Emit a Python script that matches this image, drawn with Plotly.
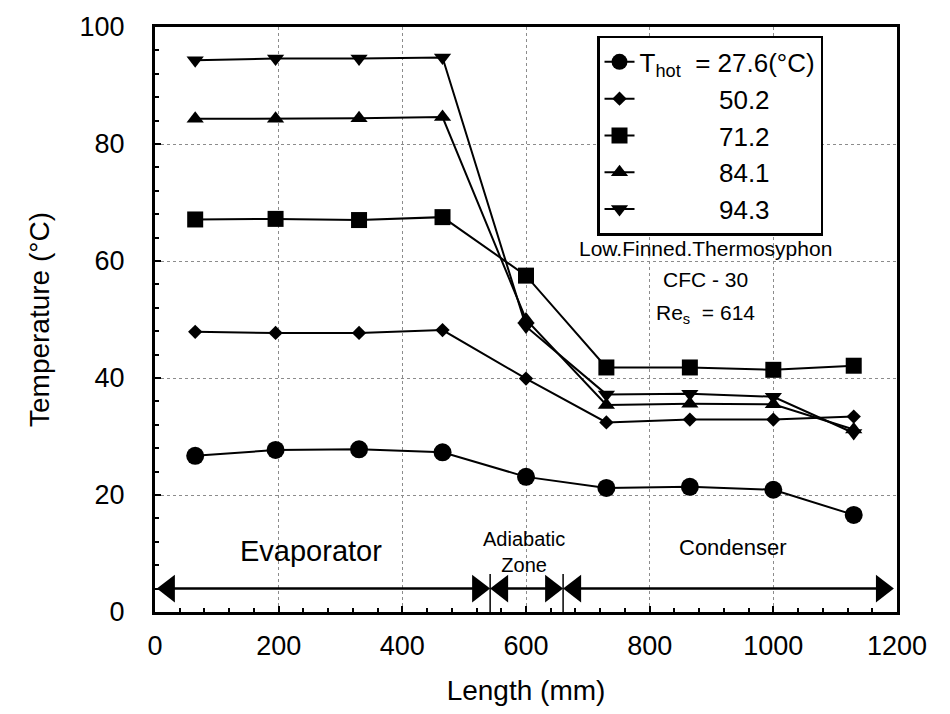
import plotly.graph_objects as go

# Axial measurement stations along the thermosyphon (mm)
length_mm = [65, 195, 330, 465, 600, 730, 865, 1000, 1130]

# Wall temperature (°C) for each heating-water inlet temperature T_hot
temp_276 = [26.7, 27.7, 27.8, 27.3, 23.1, 21.2, 21.4, 20.9, 16.6]
temp_502 = [47.9, 47.7, 47.7, 48.2, 39.9, 32.4, 32.9, 32.9, 33.4]
temp_712 = [67.1, 67.2, 67.0, 67.5, 57.5, 41.8, 41.8, 41.4, 42.1]
temp_841 = [84.3, 84.3, 84.4, 84.6, 50.0, 35.4, 35.6, 35.5, 31.2]
temp_943 = [94.3, 94.6, 94.6, 94.8, 48.8, 37.2, 37.3, 36.8, 30.6]

series_labels = [
    "T<sub>hot</sub>  = 27.6(°C)",
    "\u00a0" * 11 + "50.2",
    "\u00a0" * 11 + "71.2",
    "\u00a0" * 11 + "84.1",
    "\u00a0" * 11 + "94.3",
]

# Section boundaries of the tube (mm): evaporator | adiabatic zone | condenser
zone_bounds_mm = [3, 542, 660, 1195]
zone_names = ["Evaporator", "Adiabatic<br>Zone", "Condenser"]

x_ticks = [0, 200, 400, 600, 800, 1000, 1200]
y_ticks = [0, 20, 40, 60, 80, 100]

MAIN_FONT = "Liberation Sans, Arial, sans-serif"

# plot-area geometry, used to place arrowhead tips exactly on the boundaries
PLOT_W_PX = 950 - 155 - 53
PX_PER_MM = PLOT_W_PX / 1200.0
HEAD_SIZE = 24                     # triangle marker size (px)
head_off_mm = (HEAD_SIZE / 2) / PX_PER_MM

fig = go.Figure()

styles = [
    dict(symbol="circle", size=18),
    dict(symbol="diamond", size=11),
    dict(symbol="square", size=16),
    dict(symbol="triangle-up", size=15),
    dict(symbol="triangle-down", size=15),
]
for name, temps, st in zip(series_labels,
                           [temp_276, temp_502, temp_712, temp_841, temp_943],
                           styles):
    fig.add_trace(go.Scatter(
        x=length_mm, y=temps, name=name, mode="lines+markers",
        line=dict(color="black", width=2),
        marker=dict(color="black", symbol=st["symbol"], size=st["size"],
                    line=dict(width=0)),
    ))

# Double-headed arrows marking each section along the tube
arrow_y = 4
for x0, x1 in zip(zone_bounds_mm[:-1], zone_bounds_mm[1:]):
    fig.add_trace(go.Scatter(
        x=[x0 + head_off_mm, x1 - head_off_mm], y=[arrow_y, arrow_y],
        mode="lines+markers", showlegend=False, hoverinfo="skip",
        line=dict(color="black", width=2.5),
        marker=dict(color="black", size=HEAD_SIZE,
                    symbol=["triangle-left", "triangle-right"],
                    line=dict(width=0)),
    ))
for xb in zone_bounds_mm[1:-1]:
    fig.add_shape(type="line", x0=xb, x1=xb, y0=0, y1=6.5,
                  line=dict(color="black", width=1.5))

fig.add_annotation(x=252, y=10.5, text=zone_names[0], showarrow=False,
                   font=dict(family=MAIN_FONT, size=29, color="black"))
fig.add_annotation(x=597, y=10.3, text=zone_names[1], showarrow=False,
                   font=dict(family=MAIN_FONT, size=20, color="black"))
fig.add_annotation(x=934, y=11, text=zone_names[2], showarrow=False,
                   font=dict(family=MAIN_FONT, size=22, color="black"))

# Test-condition notes
notes = ["Low.Finned.Thermosyphon", "CFC - 30", "Re<sub>s</sub>  = 614"]
for txt, yv in zip(notes, [62.2, 56.9, 50.9]):
    fig.add_annotation(x=891, y=yv, text=txt, showarrow=False,
                       font=dict(family=MAIN_FONT, size=21, color="black"))

axis_common = dict(
    showline=True, linecolor="black", linewidth=3, mirror=True,
    ticks="inside", ticklen=6, tickwidth=1.5, tickcolor="black",
    showgrid=True, gridcolor="#8c8c8c", gridwidth=1, griddash="dot",
    zeroline=False,
    tickfont=dict(family=MAIN_FONT, size=27, color="black"),
    title_font=dict(family=MAIN_FONT, size=28, color="black"),
)

fig.update_xaxes(
    range=[0, 1200], tickvals=x_ticks, ticklabelstandoff=8,
    title_text="Length (mm)", title_standoff=20,
    minor=dict(dtick=40, ticks="inside", ticklen=4, tickcolor="black",
               showgrid=False),
    **axis_common,
)
fig.update_yaxes(
    range=[0, 100], tickvals=y_ticks, ticklabelstandoff=22,
    title_text="Temperature (°C)", title_standoff=22,
    title_font_size=31,
    minor=dict(dtick=4, ticks="inside", ticklen=4, tickcolor="black",
               showgrid=False),
    **axis_common,
)

fig.update_layout(
    width=950, height=714,
    margin=dict(l=155, r=53, t=23, b=102),
    plot_bgcolor="white", paper_bgcolor="white",
    font=dict(family=MAIN_FONT, color="black"),
    legend=dict(
        x=0.5957, y=0.9847, xanchor="left", yanchor="top",
        bordercolor="black", borderwidth=2.5, bgcolor="white",
        font=dict(family=MAIN_FONT, size=26, color="black"),
        itemwidth=30, tracegroupgap=0,
    ),
)

fig.write_html("out.html")
